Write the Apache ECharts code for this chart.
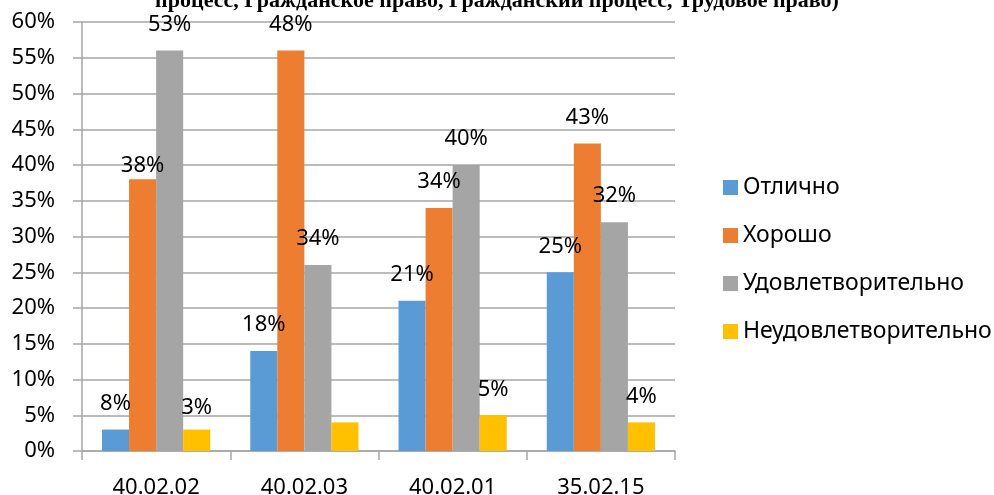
<!DOCTYPE html>
<html>
<head>
<meta charset="utf-8">
<script src="https://cdn.jsdelivr.net/npm/echarts@6/dist/echarts.min.js"></script>
<style>html,body{margin:0;padding:0;background:#fff;}#c{width:994px;height:495px;}</style>
</head>
<body>
<div id="c"></div>
<script>
const categories = ['40.02.02', '40.02.03', '40.02.01', '35.02.15'];
const seriesNames = ['Отлично', 'Хорошо', 'Удовлетворительно', 'Неудовлетворительно'];
const excellent = [3, 14, 21, 25];
const good = [38, 56, 34, 43];
const satisfactory = [56, 26, 40, 32];
const unsatisfactory = [3, 4, 5, 4];
const excellentLabels = ['8%', '18%', '21%', '25%'];
const goodLabels = ['38%', '48%', '34%', '43%'];
const satisfactoryLabels = ['53%', '34%', '40%', '32%'];
const unsatisfactoryLabels = ['3%', '', '5%', '4%'];
const yTicks = [0, 5, 10, 15, 20, 25, 30, 35, 40, 45, 50, 55, 60];
const titleText = 'процесс, Гражданское право, Гражданский процесс, Трудовое право)';

const colors = ['#5B9BD5', '#ED7D31', '#A5A5A5', '#FFC000'];
const values = [excellent, good, satisfactory, unsatisfactory];
const labels = [excellentLabels, goodLabels, satisfactoryLabels, unsatisfactoryLabels];
// label distance overrides (series index, data index) -> distance
const distOverride = {'1_0': 3, '3_0': 11};
const FONT = '"Noto Sans", sans-serif';

const chart = echarts.init(document.getElementById('c'));
chart.setOption({
  animation: false,
  color: colors,
  title: {
    text: titleText,
    left: 'center',
    top: -15,
    textStyle: {fontFamily: '"Liberation Serif", serif', fontWeight: 'bold', fontSize: 22, color: '#000'}
  },
  legend: {
    orient: 'vertical',
    left: 718,
    top: 171,
    itemWidth: 15,
    itemHeight: 15,
    itemGap: 25,
    icon: 'rect',
    textStyle: {fontFamily: FONT, fontSize: 23, color: '#000'},
    data: seriesNames
  },
  grid: {left: 82, right: 319, top: 22, bottom: 44, containLabel: false, outerBoundsMode: 'none'},
  xAxis: {
    type: 'category',
    data: categories,
    axisLine: {lineStyle: {color: '#A6A6A6', width: 1.5}},
    axisTick: {show: true, length: 9, lineStyle: {color: '#A6A6A6', width: 1.5}},
    axisLabel: {fontFamily: FONT, fontSize: 22, color: '#000', margin: 26}
  },
  yAxis: {
    type: 'value',
    min: yTicks[0],
    max: yTicks[yTicks.length - 1],
    interval: 5,
    axisLine: {show: true, lineStyle: {color: '#A6A6A6', width: 1.5}},
    axisTick: {show: true, length: 9, lineStyle: {color: '#A6A6A6', width: 1.5}},
    splitLine: {lineStyle: {color: '#A6A6A6', width: 1.5}},
    axisLabel: {fontFamily: FONT, fontSize: 22, color: '#000', margin: 27, formatter: '{value}%'}
  },
  series: seriesNames.map((name, si) => ({
    name: name,
    type: 'bar',
    barGap: '0%',
    barCategoryGap: '27%',
    data: values[si].map((v, di) => {
      const d = distOverride[si + '_' + di];
      const item = {value: v};
      if (d !== undefined) item.label = {distance: d};
      return item;
    }),
    label: {
      show: true,
      position: 'top',
      distance: 15,
      fontFamily: FONT,
      fontSize: 22,
      color: '#000',
      formatter: p => labels[si][p.dataIndex]
    }
  }))
});
</script>
</body>
</html>
